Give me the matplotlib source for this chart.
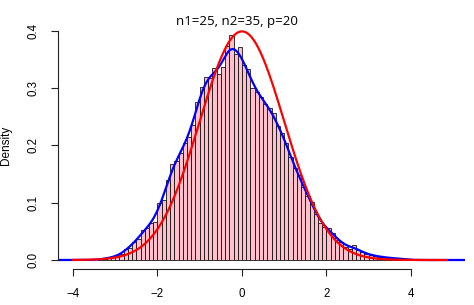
import numpy as np
import matplotlib.pyplot as plt

plt.rcParams['font.family'] = ['Liberation Sans', 'DejaVu Sans']

# histogram on density scale, breaks every 0.1 starting at -3.4
bin_left = -3.4
bin_width = 0.1
dens = [0.001, 0.002, 0.004, 0.005, 0.006, 0.010, 0.019, 0.021, 0.032, 0.036,
        0.052, 0.055, 0.065, 0.067, 0.099, 0.105, 0.140, 0.167, 0.173, 0.187,
        0.205, 0.215, 0.236, 0.275, 0.302, 0.320, 0.318, 0.335, 0.324, 0.337,
        0.374, 0.393, 0.359, 0.371, 0.341, 0.333, 0.301, 0.294, 0.285, 0.273,
        0.265, 0.256, 0.233, 0.222, 0.205, 0.180, 0.160, 0.148, 0.128, 0.112,
        0.102, 0.080, 0.065, 0.057, 0.055, 0.047, 0.035, 0.032, 0.023, 0.020,
        0.027, 0.017, 0.014, 0.010, 0.009, 0.007, 0.006, 0.005, 0.004, 0.003,
        0.003, 0.002, 0.002]
data_min, data_max = -4.0, 4.85   # range of the simulated statistics
bw = 0.15                         # kernel bandwidth for the density line

title = 'n1=25, n2=35, p=20'
xticks = [-4, -2, 0, 2, 4]
yticks = [0.0, 0.1, 0.2, 0.3, 0.4]

fig = plt.figure(figsize=(4.74, 3.05), dpi=100)
ax = fig.add_axes([58 / 474, 36 / 305, 407 / 474, 247.4 / 305])

edges = bin_left + bin_width * np.arange(len(dens))
ax.bar(edges, dens, width=bin_width, align='edge', color='pink',
       edgecolor='#111111', linewidth=0.6)

# kernel density of the data (from the binned values)
grid = np.linspace(-4.4, 5.3, 500)
centers = edges + bin_width / 2
w = np.array(dens) * bin_width
kde = (w[None, :] * np.exp(-0.5 * ((grid[:, None] - centers[None, :]) / bw) ** 2)
       / (bw * np.sqrt(2 * np.pi))).sum(axis=1)
ax.plot(grid, kde, color='blue', lw=1.6)

# standard normal density
xs = np.linspace(data_min, data_max, 400)
ax.plot(xs, np.exp(-xs ** 2 / 2) / np.sqrt(2 * np.pi), color='red', lw=1.6)

ax.set_xlim(-4.355, 5.28)
ax.set_ylim(-0.0157, 0.416)

for s in ['top', 'right']:
    ax.spines[s].set_visible(False)
ax.spines['bottom'].set_bounds(-4, 4)
ax.spines['left'].set_bounds(0, 0.4)
for s in ['bottom', 'left']:
    ax.spines[s].set_linewidth(0.8)
    ax.spines[s].set_color('#222222')

ax.set_xticks(xticks)
ax.set_yticks(yticks)
ax.set_yticklabels([f'{v:.1f}' for v in yticks])
ax.tick_params(direction='out', length=5, width=0.8, color='#222222',
               labelsize=8.3, pad=8.5)
for lab in ax.get_yticklabels():
    lab.set_rotation(90)
    lab.set_va('center')

fig.text(6 / 474, 0.523, 'Density', rotation=90, ha='center', va='center', fontsize=8.5)
fig.text(0.5, 1 - 25 / 305, title, ha='center', va='baseline',
         fontsize=9.5, family=['Open Sans', 'DejaVu Sans'])

fig.savefig('out.png', dpi=100)
